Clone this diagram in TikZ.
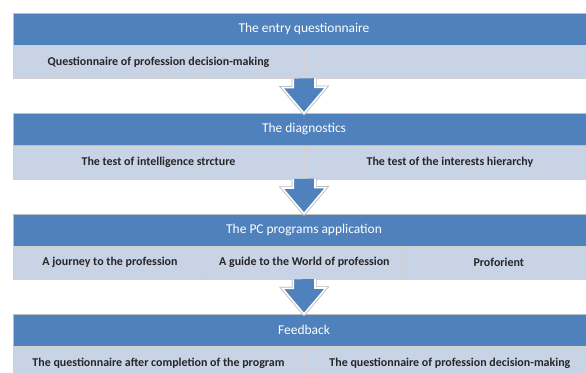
\documentclass[tikz,border=0pt]{standalone}
\usepackage{fontspec}
\setmainfont{Carlito}
\usetikzlibrary{positioning}

\definecolor{hdrblue}{HTML}{4F81BD}
\definecolor{cellblue}{HTML}{C8D3E6}

\tikzset{
  head/.style={rectangle, fill=hdrblue, draw=black!25, text=white,
    minimum width=582bp, minimum height=32bp, inner sep=0pt,
    font=\fontsize{13.5}{15}\selectfont},
  cell/.style={rectangle, fill=cellblue, draw=black!18, text=black!85,
    minimum height=33bp, inner sep=0pt,
    font=\fontsize{12}{14}\selectfont\bfseries},
  flow/.style={fill=hdrblue, draw=white, line width=1.6bp, line join=miter,
    preaction={draw=black!28, line width=3.2bp}}
}

\begin{document}
\begin{tikzpicture}[x=1bp, y=-1bp]

  \newcommand\HALF{291bp}
  \newcommand\THIRD{194bp}
  \newcommand\GAP{68bp}
  % down arrow from a block bottom to the next header
  \newcommand\flowarrow[2]{%
    \draw[flow] (#1) ++(-11,0) -- ++(0,9) -- ++(-11,0) -- (#2)
      -- ++(22,-26) -- ++(-11,0) -- ++(0,-9);}

  \useasboundingbox (0,0) rectangle (586,372);
  \clip (0,0) rectangle (586,372);

  \node[head] (hdrA) at (304,29) {The entry questionnaire};
  \node[cell, minimum width=\HALF, below right=0pt and 0pt of hdrA.south west] (cellA1)
    {Questionnaire of profession decision-making};
  \node[cell, minimum width=\HALF, right=0pt of cellA1] (cellA2) {};

  \node[head, below=\GAP of hdrA] (hdrB) {The diagnostics};
  \node[cell, minimum width=\HALF, below right=0pt and 0pt of hdrB.south west] (cellB1)
    {The test of intelligence strcture};
  \node[cell, minimum width=\HALF, right=0pt of cellB1] (cellB2)
    {The test of the interests hierarchy};

  \node[head, below=\GAP of hdrB] (hdrC) {The PC programs application};
  \node[cell, minimum width=\THIRD, below right=0pt and 0pt of hdrC.south west] (cellC1)
    {A journey to the profession};
  \node[cell, minimum width=\THIRD, right=0pt of cellC1] (cellC2)
    {A guide to the World of profession};
  \node[cell, minimum width=\THIRD, right=0pt of cellC2] (cellC3) {Proforient};

  \node[head, below=\GAP of hdrC] (hdrD) {Feedback};
  \node[cell, minimum width=\HALF, below right=0pt and 0pt of hdrD.south west] (cellD1)
    {The questionnaire after completion of the program};
  \node[cell, minimum width=\HALF, right=0pt of cellD1] (cellD2)
    {The questionnaire of profession decision-making};

  \flowarrow{cellA1.south east}{hdrB.north}
  \flowarrow{cellB1.south east}{hdrC.north}
  \flowarrow{cellC2.south}{hdrD.north}

\end{tikzpicture}
\end{document}
